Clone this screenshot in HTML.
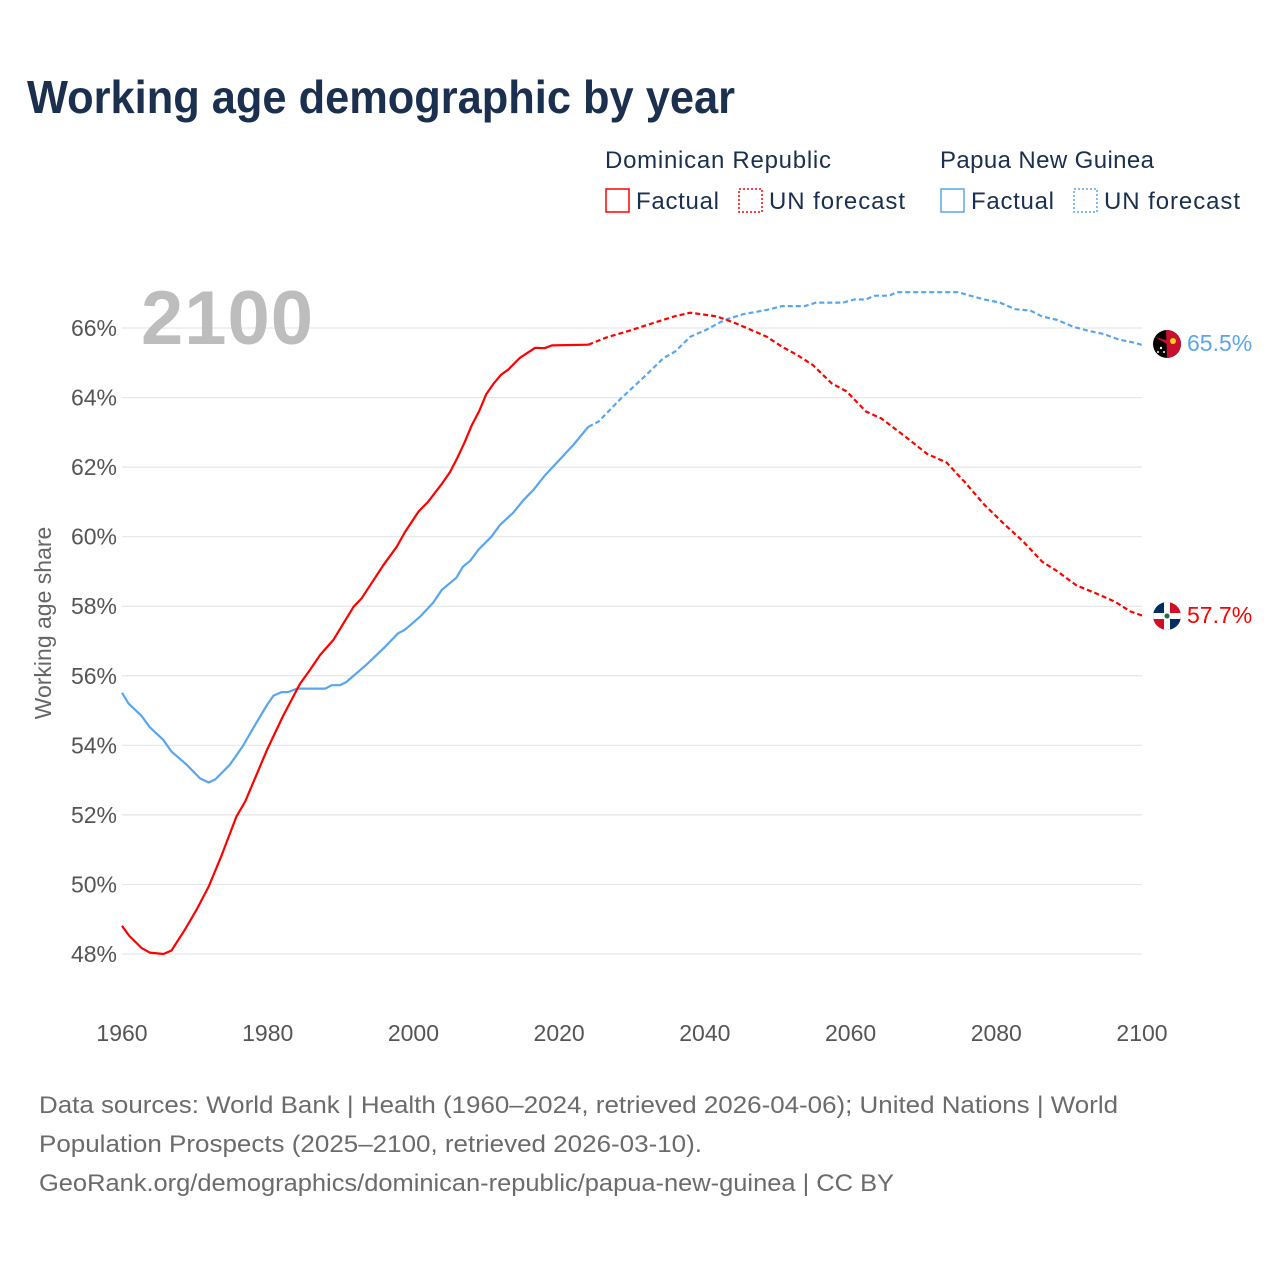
<!DOCTYPE html>
<html><head><meta charset="utf-8"><style>
body{margin:0;background:#fff;}
svg text{font-family:"Liberation Sans",sans-serif;}
</style></head><body>
<svg id="chart" width="1280" height="1280" xmlns="http://www.w3.org/2000/svg">
<rect width="1280" height="1280" fill="#fff"/>
<text x="27" y="113" font-size="46" font-weight="bold" fill="#1b2f4e" textLength="708" lengthAdjust="spacingAndGlyphs">Working age demographic by year</text>
<g font-size="24" fill="#1b2f4e">
<text x="605" y="168" fill="#1b2f4e" textLength="226">Dominican Republic</text>
<text x="940" y="168" fill="#1b2f4e" textLength="214">Papua New Guinea</text>
<g><rect x="606" y="189" width="23" height="23" fill="none" stroke="#ff0000" stroke-width="1.5"/><text x="636" y="209" fill="#1b2f4e" textLength="83">Factual</text></g>
<g><rect x="739" y="189" width="23" height="23" fill="none" stroke="#ff0000" stroke-width="1.5" stroke-dasharray="2,2"/><text x="769" y="209" fill="#1b2f4e" textLength="136">UN forecast</text></g>
<g><rect x="941" y="189" width="23" height="23" fill="none" stroke="#5aa5ec" stroke-width="1.5"/><text x="971" y="209" fill="#1b2f4e" textLength="83">Factual</text></g>
<g><rect x="1074" y="189" width="23" height="23" fill="none" stroke="#5aa5ec" stroke-width="1.5" stroke-dasharray="2,2"/><text x="1104" y="209" fill="#1b2f4e" textLength="136">UN forecast</text></g>
</g>
<g id="grid"></g>
<g id="yticks"></g>
<g id="xticks"></g>
<text x="141" y="344" font-size="76" font-weight="bold" fill="#bdbdbd" textLength="172">2100</text>
<text transform="translate(51,623) rotate(-90)" text-anchor="middle" font-size="23" fill="#666">Working age share</text>
<g id="series"></g>
<g>
<g>
<circle cx="1167" cy="344" r="14" fill="#000"/>
<path d="M1166,330 A14,14 0 0 1 1181,344 A14,14 0 0 1 1167,358 Z" fill="#c8102e"/>
<path d="M1155,337 L1181,344 L1167,344 Z" fill="#c8102e"/>
<circle cx="1173" cy="341" r="3" fill="#fcd116"/>
<circle cx="1161" cy="348" r="1.2" fill="#fff"/><circle cx="1164" cy="352" r="1" fill="#fff"/><circle cx="1158" cy="352" r="1" fill="#fff"/>
</g>
<text x="1187" y="351" font-size="23" fill="#5aa5ec">65.5%</text>
<g>
<clipPath id="cdr"><circle cx="1167" cy="616" r="14"/></clipPath>
<g clip-path="url(#cdr)">
<rect x="1153" y="602" width="14" height="14" fill="#002d62"/><rect x="1167" y="602" width="14" height="14" fill="#ce1126"/>
<rect x="1153" y="616" width="14" height="14" fill="#ce1126"/><rect x="1167" y="616" width="14" height="14" fill="#002d62"/>
<rect x="1153" y="613" width="28" height="6" fill="#fff"/><rect x="1164" y="602" width="6" height="28" fill="#fff"/>
<circle cx="1167" cy="616" r="2.5" fill="#1b6e3a"/></g>
</g>
<text x="1187" y="623" font-size="23" fill="#ff0000">57.7%</text>
</g>
<g font-size="24" fill="#6b6b6b">
<text x="39" y="1113" textLength="1079" lengthAdjust="spacingAndGlyphs">Data sources: World Bank | Health (1960–2024, retrieved 2026-04-06); United Nations | World</text>
<text x="39" y="1152" textLength="663" lengthAdjust="spacingAndGlyphs">Population Prospects (2025–2100, retrieved 2026-03-10).</text>
<text x="39" y="1191" textLength="855" lengthAdjust="spacingAndGlyphs">GeoRank.org/demographics/dominican-republic/papua-new-guinea | CC BY</text>
</g>
</svg>
<script>
const yTicks=[48,50,52,54,56,58,60,62,64,66];
const xTicks=[1960,1980,2000,2020,2040,2060,2080,2100];
const drFactYears=[1960,1961,1962.7,1963.8,1965.7,1966.8,1968.6,1970.2,1971.9,1973.7,1975.7,1976.9,1979.9,1982.1,1984.4,1985.8,1987.2,1989,1991.8,1992.9,1995.9,1997.7,1998.8,2000.7,2002,2004,2005,2006,2007,2008,2009,2010,2011,2012,2013,2014.6,2016.7,2018,2019,2024];
const drFactVals=[48.81,48.52,48.17,48.04,48.0,48.1,48.69,49.26,49.94,50.85,51.95,52.38,53.87,54.84,55.76,56.17,56.6,57.03,57.99,58.23,59.19,59.71,60.12,60.72,61.0,61.55,61.85,62.25,62.7,63.2,63.6,64.1,64.4,64.65,64.8,65.14,65.43,65.42,65.5,65.52];
const drFcYears=[2024,2026.4,2029.6,2032.7,2035.9,2038,2041.7,2044.3,2048.5,2050.6,2052.7,2054.8,2057.4,2059.5,2062.1,2064.2,2066.3,2068.4,2070.5,2073.2,2075.8,2078.4,2081,2083.7,2086.3,2088.4,2091,2093.7,2096.3,2098.4,2100];
const drFcVals=[65.52,65.72,65.92,66.13,66.34,66.44,66.33,66.13,65.75,65.46,65.22,64.94,64.41,64.17,63.6,63.4,63.07,62.73,62.38,62.13,61.54,60.91,60.38,59.86,59.28,59.0,58.6,58.37,58.13,57.85,57.73];
const pngFactYears=[1960,1960.9,1962.7,1963.8,1965.7,1966.8,1968.9,1970.7,1971.9,1972.8,1974.8,1976.6,1978,1979.9,1980.8,1981.9,1982.8,1984,1987.9,1988.8,1989.9,1990.8,1993.6,1995.9,1997.9,1998.8,2000.9,2002.7,2003.9,2005.9,2006.8,2007.8,2008.9,2010.7,2011.9,2013.7,2015.1,2016.5,2018,2020,2022,2024];
const pngFactVals=[55.51,55.2,54.84,54.52,54.15,53.82,53.44,53.05,52.93,53.02,53.44,53.98,54.49,55.16,55.43,55.53,55.53,55.63,55.63,55.73,55.73,55.82,56.33,56.79,57.22,57.32,57.7,58.1,58.47,58.82,59.14,59.31,59.62,60.0,60.34,60.69,61.05,61.35,61.75,62.2,62.65,63.16];
const pngFcYears=[2024,2025.4,2028.5,2031.7,2034.3,2035.9,2038,2040.1,2042.7,2045.3,2048.5,2050.6,2053.7,2055.3,2059,2060.5,2062.1,2063.2,2065.3,2066.3,2074.8,2076.4,2078.4,2080.5,2082.6,2084.7,2086.3,2088.4,2090.5,2092.6,2094.7,2096.8,2098.9,2100];
const pngFcVals=[63.16,63.31,63.98,64.6,65.13,65.32,65.75,65.94,66.23,66.4,66.52,66.63,66.63,66.73,66.73,66.82,66.82,66.93,66.93,67.03,67.03,66.93,66.82,66.73,66.54,66.5,66.33,66.23,66.04,65.92,65.83,65.67,65.58,65.51];

const NS='http://www.w3.org/2000/svg';
const xS=y=>122+(y-1960)*(1020/140);
const yS=v=>328+(66-v)*(626/18);
function mk(tag,attrs,parent){const e=document.createElementNS(NS,tag);for(const k in attrs)e.setAttribute(k,attrs[k]);parent.appendChild(e);return e;}
const grid=document.getElementById('grid'),yt=document.getElementById('yticks'),xt=document.getElementById('xticks'),ser=document.getElementById('series');
yTicks.forEach(v=>{
  const l=mk('line',{x1:122,x2:1142,y1:yS(v),y2:yS(v),stroke:'#e6e6e6','stroke-width':1.2},grid);
  
  
  const t=mk('text',{x:117,y:yS(v)+8,'text-anchor':'end','font-size':23,fill:'#555'},yt);
  t.textContent=v+'%';
  
  
});
xTicks.forEach(y=>{
  const t=mk('text',{x:xS(y),y:1041,'text-anchor':'middle','font-size':23,fill:'#555'},xt);
  t.textContent=y;
  
  
});
function line(years,vals,color,dash,name){
  const d=years.map((y,i)=>(i?'L':'M')+xS(y).toFixed(1)+','+yS(vals[i]).toFixed(1)).join('');
  const p=mk('path',{d:d,fill:'none',stroke:color,'stroke-width':2.2,'stroke-linejoin':'round'},ser);
  if(dash)p.setAttribute('stroke-dasharray',dash);
  
  
}
line(pngFactYears,pngFactVals,'#5aa5ec',null,'png-factual-line');
line(pngFcYears,pngFcVals,'#5aa5ec','5,3','png-forecast-line');
line(drFactYears,drFactVals,'#ff0000',null,'dr-factual-line');
line(drFcYears,drFcVals,'#ff0000','5,3','dr-forecast-line');
</script>
</body></html>
